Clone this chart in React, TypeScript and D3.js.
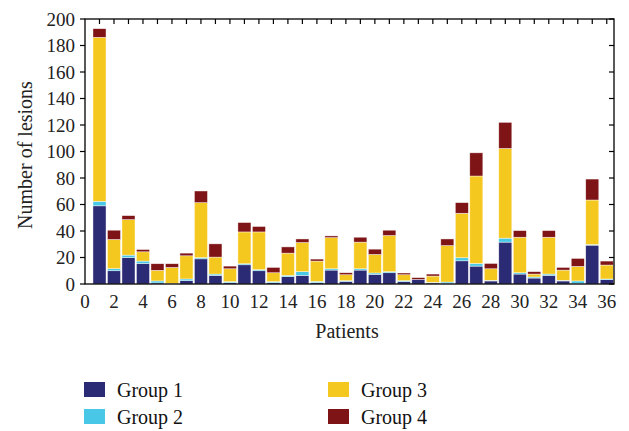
import React from "react";
import * as d3 from "d3";

const patients = d3.range(1, 37);
const group1 = [59, 10, 20, 15.5, 0.8, 0, 2.5, 19, 6.5, 1, 14.5, 10, 1, 5.5, 6.5, 1, 10.5, 2, 10.5, 7.3, 8.5, 1.8, 3.5, 0.8, 0.3, 17.5, 13.5, 2.3, 31.6, 7.5, 4.5, 6.5, 2.3, 0.3, 29.3, 3.3];
const group2 = [3.4, 1.6, 1.8, 1.8, 1.5, 0.3, 1.3, 0.9, 1, 0.8, 0.8, 0.8, 0.8, 1, 2.8, 1, 1, 0.5, 1, 1, 0.8, 0.7, 0, 0.5, 1.2, 2.3, 2, 0.5, 3, 1, 0.8, 1, 0.5, 2, 0.5, 0.5];
const group3 = [123.8, 22, 26.8, 7, 8, 12.2, 17.5, 41.5, 12.8, 9.7, 24, 28.5, 6.7, 16.8, 22, 15.3, 23.5, 4.5, 20.1, 14, 27.3, 4.5, 0, 4.7, 27.5, 33.6, 66, 8.7, 67.7, 26.8, 2.2, 27.8, 7.7, 11, 33.6, 10.5];
const group4 = [6.5, 7, 3, 1.7, 5, 2.8, 2, 8.8, 10, 2, 7.1, 4.1, 4, 4.7, 2.7, 1.5, 1.3, 1.5, 3.7, 4, 4, 1.3, 1.3, 1.5, 5, 8, 17.5, 4, 19.7, 5, 1.8, 5, 2, 6, 15.8, 3];
const groupNames = ["Group 1", "Group 2", "Group 3", "Group 4"];
const groupColors = ["#2b2a74", "#48c8e6", "#f5c820", "#7f1416"];
const yTicks = d3.range(0, 201, 20);
const xTickLabels = d3.range(0, 37, 2);

const FONT = "'Liberation Serif', 'Times New Roman', serif";

export default function App() {
  const left = 85, right = 614, top = 19, bottom = 284;
  const x = d3.scaleLinear().domain([0, 36.5]).range([left, right]);
  const y = d3.scaleLinear().domain([0, 200]).range([bottom, top]);
  const rows = patients.map((p, i) => ({ p, g0: group1[i], g1: group2[i], g2: group3[i], g3: group4[i] }));
  const stack = d3.stack<any>().keys(["g0", "g1", "g2", "g3"])(rows);
  const bw = (x(1) - x(0)) * 0.9;

  const legendPos = [
    { lx: 84, ly: 382 },
    { lx: 84, ly: 409 },
    { lx: 328, ly: 382 },
    { lx: 328, ly: 409 },
  ];

  return (
    <svg width={629} height={431} style={{ position: "absolute", left: 0, top: 0, background: "#fff" }} fontFamily={FONT}>
      {stack.map((layer, si) => (
        <g key={si} fill={groupColors[si]}>
          {layer.map((d, i) => {
            const h = y(d[0]) - y(d[1]);
            if (h <= 0) return null;
            return (
              <rect key={i} x={x(patients[i]) - bw / 2} y={y(d[1])} width={bw} height={h}
                stroke="#ffffff" strokeOpacity={0.7} strokeWidth={0.6} />
            );
          })}
        </g>
      ))}
      <rect x={left} y={top} width={right - left} height={bottom - top} fill="none" stroke="#000" strokeWidth={1.3} />
      {patients.map((p) => (
        <line key={"tt" + p} x1={x(p)} x2={x(p)} y1={top} y2={top + 5} stroke="#000" strokeWidth={1.2} />
      ))}
      {yTicks.map((t) => (
        <g key={"yt" + t}>
          <line x1={left - 5} x2={left} y1={y(t)} y2={y(t)} stroke="#000" strokeWidth={1.2} />
          <line x1={right - 5} x2={right} y1={y(t)} y2={y(t)} stroke="#000" strokeWidth={1.2} />
          <text x={left - 10} y={y(t)} dy="0.35em" textAnchor="end" fontSize={19} fill="#222">{t}</text>
        </g>
      ))}
      {xTickLabels.map((t) => (
        <text key={"xt" + t} x={x(t)} y={308} textAnchor="middle" fontSize={19} fill="#222">{t}</text>
      ))}
      <text x={347} y={338} textAnchor="middle" fontSize={20} fill="#222">Patients</text>
      <text transform={`translate(32,155) rotate(-90)`} textAnchor="middle" fontSize={20} fill="#222">Number of lesions</text>
      {groupNames.map((n, i) => (
        <g key={n}>
          <rect x={legendPos[i].lx} y={legendPos[i].ly} width={21} height={15} fill={groupColors[i]} />
          <text x={legendPos[i].lx + 33} y={legendPos[i].ly + 14.5} fontSize={20} fill="#111">{n}</text>
        </g>
      ))}
    </svg>
  );
}
